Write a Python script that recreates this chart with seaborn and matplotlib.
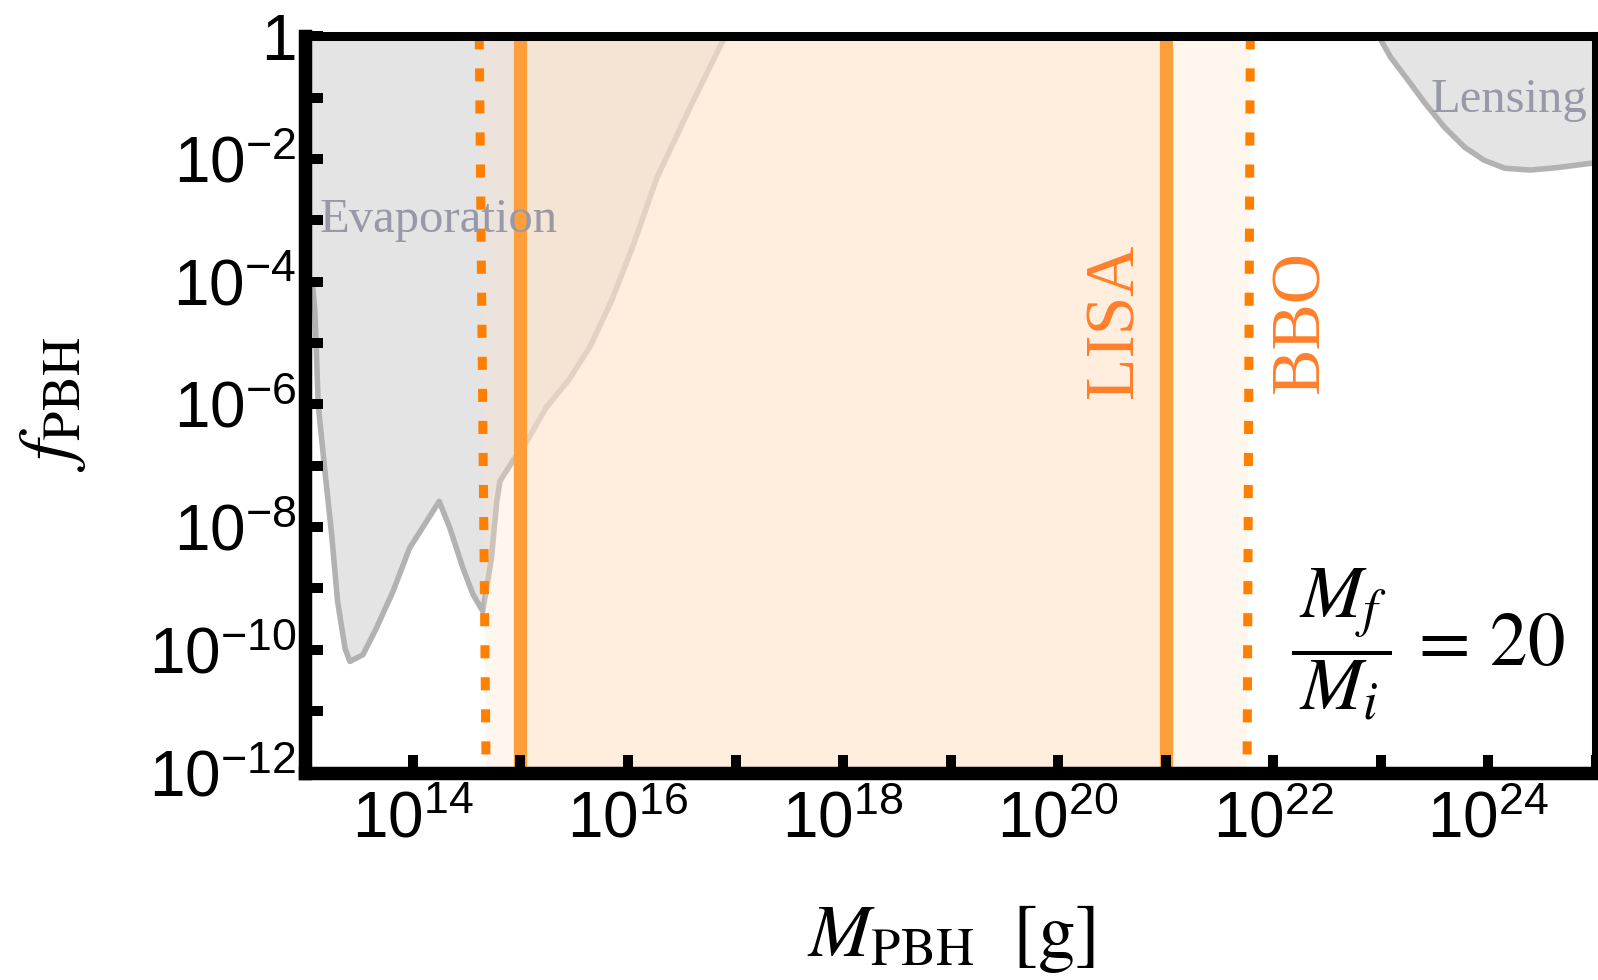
import numpy as np
import matplotlib
matplotlib.use("Agg")
import matplotlib.pyplot as plt
import seaborn as sns
from matplotlib.ticker import NullLocator

# ==========================================
# Data (log10 values)
# ==========================================
# evaporation bound: log10(M/g) and log10(f_PBH)
evap_log_m = [12.9, 13.07, 13.09, 13.12, 13.18, 13.245, 13.30, 13.37, 13.415, 13.536,
              13.66, 13.815, 13.97, 14.13, 14.245, 14.345, 14.466, 14.56, 14.65, 14.73,
              14.78, 14.81, 14.93, 15.06, 15.24, 15.45, 15.65, 15.85, 16.05, 16.27,
              16.58, 16.88, 17.1]
evap_log_f = [-3.9, -4.1, -4.5, -6.0, -7.05, -8.12, -9.21, -9.98, -10.19, -10.08,
              -9.65, -9.05, -8.34, -7.90, -7.58, -8.02, -8.67, -9.10, -9.37, -8.51,
              -7.58, -7.25, -6.92, -6.60, -6.05, -5.60, -5.05, -4.30, -3.40, -2.30,
              -1.15, -0.08, 0.4]

# lensing bound
lens_log_m = [22.95, 23.0, 23.09, 23.25, 23.41, 23.59, 23.78, 23.96, 24.15, 24.39,
              24.64, 24.95, 25.1]
lens_log_f = [0.3, -0.06, -0.34, -0.71, -1.09, -1.48, -1.81, -2.02, -2.15, -2.18,
              -2.14, -2.07, -2.05]

# GW detector windows
lisa_log_m = [15.0, 21.0]
bbo_top_log_m = [14.617, 21.786]   # edges at f = 1
bbo_bot_log_m = [14.681, 21.756]   # edges at f = 1e-12

x_tick_exp = list(range(13, 26))
y_tick_exp = list(range(-12, 1))

# ==========================================
# Style
# ==========================================
sns.set_theme(style="white")
plt.rcParams["font.family"] = ["Liberation Sans", "DejaVu Sans"]
plt.rcParams["mathtext.fontset"] = "custom"
plt.rcParams["mathtext.rm"] = "Liberation Sans"
plt.rcParams["mathtext.it"] = "Liberation Sans"
plt.rcParams["mathtext.bf"] = "Liberation Sans:bold"

fig = plt.figure(figsize=(15.98, 9.8), dpi=100)
ax = fig.add_axes([0.19105, 0.21173, 0.80770, 0.75122])
ax.set_xscale("log")
ax.set_yscale("log")

evap_m = 10.0 ** np.array(evap_log_m)
evap_f = 10.0 ** np.array(evap_log_f)
lens_m = 10.0 ** np.array(lens_log_m)
lens_f = 10.0 ** np.array(lens_log_f)

grey_fill = "#e4e4e4"
grey_edge = "#b2b2b2"
band = "#ffe4cd"

# excluded regions
ax.fill_between(evap_m, evap_f, 1e3, color=grey_fill, lw=0, zorder=1)
ax.fill_between(lens_m, lens_f, 1e3, color=grey_fill, lw=0, zorder=1)
sns.lineplot(x=evap_m, y=evap_f, ax=ax, color=grey_edge, linewidth=4,
             sort=False, estimator=None, zorder=1.2)
sns.lineplot(x=lens_m, y=lens_f, ax=ax, color=grey_edge, linewidth=4,
             sort=False, estimator=None, zorder=1.2)

# BBO and LISA bands
bbo_top = 10.0 ** np.array(bbo_top_log_m)
bbo_bot = 10.0 ** np.array(bbo_bot_log_m)
ax.fill([bbo_top[0], bbo_top[1], bbo_bot[1], bbo_bot[0]], [1, 1, 1e-12, 1e-12],
        color=band, alpha=0.33, lw=0, zorder=1.5)
lisa = 10.0 ** np.array(lisa_log_m)
ax.axvspan(lisa[0], lisa[1], color=band, alpha=0.47, lw=0, zorder=1.6)

for m in lisa:
    ax.axvline(m, color="#ff9f3c", lw=9.5, zorder=2)
for k in range(2):
    ax.plot([bbo_top[k], bbo_bot[k]], [1, 1e-12], color="#ff8000", lw=6.5,
            ls=(0, (1.45, 2.1)), zorder=2)

ax.set_xlim(1e13, 1e25)
ax.set_ylim(1e-12, 1)

# ticks
ax.set_xticks([10.0 ** k for k in x_tick_exp])
ax.set_xticklabels([f"$10^{{{k}}}$" if k % 2 == 0 else "" for k in x_tick_exp])
ax.set_yticks([10.0 ** k for k in y_tick_exp])
ax.set_yticklabels(["1" if k == 0 else (f"$10^{{{k}}}$" if k % 2 == 0 else "")
                    for k in y_tick_exp])
ax.xaxis.set_minor_locator(NullLocator())
ax.yaxis.set_minor_locator(NullLocator())
ax.set_axisbelow(False)
ax.tick_params(which="major", direction="in", length=13, width=7.2, color="black",
               labelsize=46, labelcolor="black", bottom=True, left=True,
               top=False, right=False)
ax.tick_params(axis="x", pad=13)
ax.tick_params(axis="y", pad=6.5)

for s in ["left", "bottom"]:
    ax.spines[s].set_linewidth(9.7)
for s in ["top", "right"]:
    ax.spines[s].set_linewidth(6.5)
for s in ax.spines.values():
    s.set_color("black")
    s.set_visible(True)

# annotations
ax.text(0.0114, 0.734, "Evaporation", transform=ax.transAxes, family="Liberation Serif",
        fontsize=35, color="#9899a8", ha="left", va="baseline", zorder=4)
ax.text(0.872, 0.897, "Lensing", transform=ax.transAxes, family="Liberation Serif",
        fontsize=35, color="#9899a8", ha="left", va="baseline", zorder=4)
ax.text(0.628, 0.613, "LISA", transform=ax.transAxes, family="Liberation Serif",
        fontsize=50, color="#ff7f2a", rotation=90, ha="center", va="center", zorder=4)
ax.text(0.772, 0.612, "BBO", transform=ax.transAxes, family="Liberation Serif",
        fontsize=50, color="#ff7f2a", rotation=90, ha="center", va="center", zorder=4)
ax.text(0.870, 0.173, r"$\dfrac{\,M_f\,}{\,M_i\,}\,=\,20$", transform=ax.transAxes,
        math_fontfamily="stix", fontsize=54, color="black", ha="center", va="center",
        zorder=4)

ax.set_xlabel(r"$M_{\mathrm{PBH}}\ \ [\mathrm{g}]$", fontsize=54, math_fontfamily="stix",
              color="black")
ax.xaxis.set_label_coords(0.5, -0.177)
ax.set_ylabel(r"$f_{\mathrm{PBH}}$", fontsize=54, math_fontfamily="stix", color="black")
ax.yaxis.set_label_coords(-0.168, 0.5)

fig.savefig("out.png", dpi=100)
